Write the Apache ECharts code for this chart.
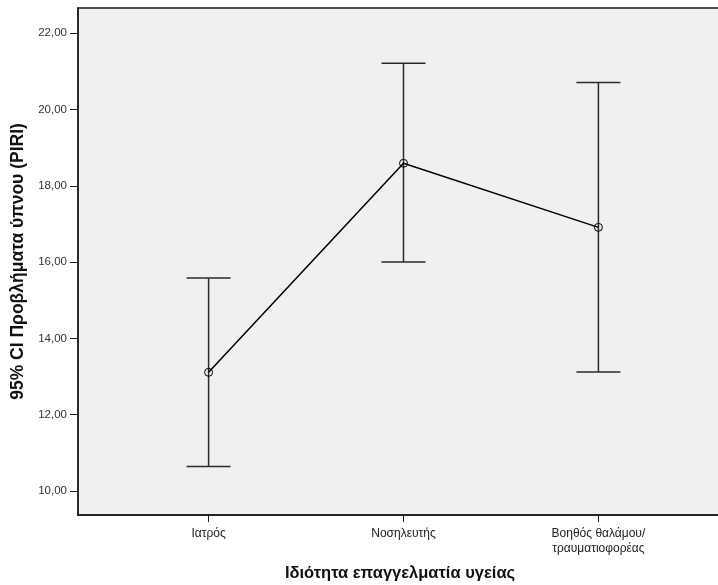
<!DOCTYPE html>
<html>
<head>
<meta charset="utf-8">
<script src="https://cdn.jsdelivr.net/npm/echarts@6/dist/echarts.min.js"></script>
<style>
  html, body { margin: 0; padding: 0; background: #ffffff; overflow: hidden; }
  #chart { width: 740px; height: 585px; }
</style>
</head>
<body>
<div id="chart"></div>
<script>
// Groups (health professional role)
const categories = ['Ιατρός', 'Νοσηλευτής', 'Βοηθός θαλάμου/\nτραυματιοφορέας'];
// Mean PIRI score and 95% confidence limits per group
const means = [13.11, 18.59, 16.91];
const lowerCI = [10.64, 16.00, 13.12];
const upperCI = [15.58, 21.21, 20.71];
// Y axis tick labels
const yTicks = [10, 12, 14, 16, 18, 20, 22];

// Group positions along the x scale (1, 2, 3)
const xPos = categories.map((_, i) => i + 1);

const lineData = xPos.map((x, i) => [x, means[i]]);
const barData = xPos.map((x, i) => [x, lowerCI[i], upperCI[i]]);

const chart = echarts.init(document.getElementById('chart'), null, { renderer: 'canvas' });

const fmtY = v => v.toFixed(2).replace('.', ',');

chart.setOption({
  animation: false,
  backgroundColor: '#ffffff',
  textStyle: { fontFamily: 'Liberation Sans, Arial, sans-serif' },
  grid: {
    left: 78, top: 8, width: 651, height: 507,
    show: true, backgroundColor: '#f0f0f0', borderColor: '#1a1a1a', borderWidth: 1.5
  },
  xAxis: {
    type: 'value', min: 0.33, max: 3.67,
    axisLine: { show: true, lineStyle: { color: '#1a1a1a', width: 1.5 } },
    axisTick: { show: true, length: 7, customValues: xPos, lineStyle: { color: '#1a1a1a' } },
    axisLabel: {
      customValues: xPos, margin: 11, fontSize: 12, color: '#222', lineHeight: 15,
      formatter: v => categories[Math.round(v) - 1]
    },
    splitLine: { show: false }
  },
  yAxis: {
    type: 'value', min: 9.37, max: 22.66,
    name: '95% CI Προβλήματα ύπνου (PIRI)', nameLocation: 'middle', nameGap: 48,
    nameTextStyle: { fontSize: 17.5, fontWeight: 'bold', color: '#111' },
    axisLine: { show: true, lineStyle: { color: '#1a1a1a', width: 1.5 } },
    axisTick: { show: true, length: 8, customValues: yTicks, lineStyle: { color: '#1a1a1a' } },
    axisLabel: { customValues: yTicks, margin: 11, fontSize: 11.5, color: '#333', formatter: fmtY },
    splitLine: { show: false }
  },
  graphic: [{
    type: 'text', x: 400, y: 573,
    style: {
      text: 'Ιδιότητα επαγγελματία υγείας', fill: '#111',
      font: 'bold 16.5px "Liberation Sans", Arial, sans-serif',
      align: 'center', verticalAlign: 'middle'
    }
  }],
  series: [
    {
      type: 'custom',
      data: barData,
      z: 2,
      renderItem: (params, api) => {
        const x = api.value(0);
        const lo = api.coord([x, api.value(1)]);
        const hi = api.coord([x, api.value(2)]);
        const hw = 22;
        const st = { stroke: '#2a2a2a', lineWidth: 1.5 };
        return {
          type: 'group',
          children: [
            { type: 'line', shape: { x1: lo[0], y1: lo[1], x2: hi[0], y2: hi[1] }, style: st },
            { type: 'line', shape: { x1: hi[0] - hw, y1: hi[1], x2: hi[0] + hw, y2: hi[1] }, style: st },
            { type: 'line', shape: { x1: lo[0] - hw, y1: lo[1], x2: lo[0] + hw, y2: lo[1] }, style: st }
          ]
        };
      }
    },
    {
      type: 'line',
      data: lineData,
      z: 3,
      symbol: 'circle', symbolSize: 8,
      lineStyle: { color: '#000', width: 1.5 },
      itemStyle: { color: 'rgba(240,240,240,0)', borderColor: '#000', borderWidth: 1 }
    }
  ]
});
</script>
</body>
</html>
